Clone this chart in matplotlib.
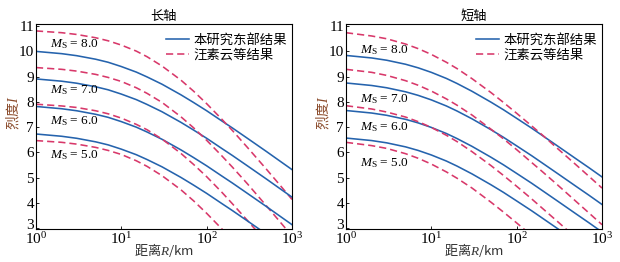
import matplotlib
matplotlib.use("Agg")
import matplotlib.pyplot as plt
import matplotlib.transforms as mtransforms
from matplotlib.lines import Line2D

plt.rcParams['font.family'] = ['Liberation Serif', 'Noto Sans CJK SC']
plt.rcParams['mathtext.fontset'] = 'custom'
plt.rcParams['mathtext.rm'] = 'Liberation Serif'
plt.rcParams['mathtext.it'] = 'Liberation Serif:italic'

R = [1, 2, 3, 5, 7, 10, 15, 20, 30, 50, 70, 100, 150, 200, 300, 500, 700, 1000]

# 长轴 (long axis)
long_this = {
    8.0: [10.00, 9.91, 9.83, 9.69, 9.57, 9.40, 9.18, 8.99, 8.70, 8.28, 7.98, 7.65, 7.25, 6.97, 6.56, 6.04, 5.69, 5.32],
    7.0: [8.91, 8.82, 8.74, 8.60, 8.48, 8.31, 8.09, 7.90, 7.61, 7.19, 6.89, 6.56, 6.16, 5.88, 5.47, 4.95, 4.60, 4.23],
    6.0: [7.82, 7.73, 7.65, 7.51, 7.39, 7.22, 7.00, 6.81, 6.52, 6.10, 5.80, 5.47, 5.07, 4.79, 4.38, 3.86, 3.51, 3.14],
    5.0: [6.73, 6.64, 6.56, 6.42, 6.30, 6.13, 5.91, 5.72, 5.43, 5.01, 4.71, 4.38, 3.98, 3.70, 3.29, 2.77, 2.42, 2.05],
}
long_wang = {
    8.0: [10.81, 10.74, 10.67, 10.54, 10.42, 10.25, 10.01, 9.79, 9.42, 8.86, 8.43, 7.93, 7.32, 6.87, 6.20, 5.34, 4.76, 4.14],
    7.0: [9.36, 9.29, 9.22, 9.09, 8.97, 8.81, 8.56, 8.34, 7.98, 7.41, 6.98, 6.48, 5.87, 5.42, 4.76, 3.89, 3.31, 2.69],
    6.0: [7.91, 7.84, 7.78, 7.65, 7.53, 7.36, 7.11, 6.90, 6.53, 5.96, 5.53, 5.04, 4.43, 3.97, 3.31, 2.45, 1.87, 1.24],
    5.0: [6.47, 6.40, 6.33, 6.20, 6.08, 5.92, 5.67, 5.45, 5.08, 4.52, 4.09, 3.59, 2.98, 2.53, 1.87, 1.00, 0.42, -0.20],
}
# 短轴 (short axis)
short_this = {
    8.0: [9.84, 9.74, 9.65, 9.49, 9.35, 9.17, 8.93, 8.73, 8.42, 7.99, 7.69, 7.35, 6.96, 6.67, 6.26, 5.74, 5.40, 5.03],
    7.0: [8.75, 8.65, 8.56, 8.40, 8.26, 8.08, 7.84, 7.64, 7.33, 6.90, 6.60, 6.26, 5.87, 5.58, 5.17, 4.65, 4.31, 3.94],
    6.0: [7.66, 7.56, 7.47, 7.31, 7.17, 6.99, 6.75, 6.55, 6.24, 5.81, 5.51, 5.17, 4.78, 4.49, 4.08, 3.56, 3.22, 2.85],
    5.0: [6.57, 6.47, 6.38, 6.22, 6.08, 5.90, 5.66, 5.46, 5.15, 4.72, 4.42, 4.08, 3.69, 3.40, 2.99, 2.47, 2.13, 1.76],
}
short_wang = {
    8.0: [10.74, 10.61, 10.50, 10.29, 10.11, 9.88, 9.57, 9.32, 8.92, 8.37, 7.98, 7.55, 7.05, 6.69, 6.16, 5.50, 5.06, 4.59],
    7.0: [9.29, 9.17, 9.05, 8.84, 8.66, 8.43, 8.12, 7.87, 7.48, 6.92, 6.54, 6.11, 5.60, 5.24, 4.72, 4.05, 3.61, 3.14],
    6.0: [7.85, 7.72, 7.60, 7.40, 7.22, 6.99, 6.68, 6.43, 6.03, 5.48, 5.09, 4.66, 4.16, 3.79, 3.27, 2.61, 2.17, 1.69],
    5.0: [6.40, 6.27, 6.16, 5.95, 5.77, 5.54, 5.23, 4.98, 4.59, 4.03, 3.64, 3.21, 2.71, 2.35, 1.83, 1.16, 0.72, 0.25],
}

titles = ['长轴', '短轴']
legend_labels = ['本研究东部结果', '汪素云等结果']
ms_label_y_long = {8.0: 10.3, 7.0: 8.46, 6.0: 7.23, 5.0: 5.89}
ms_label_y_short = {8.0: 10.07, 7.0: 8.13, 6.0: 7.01, 5.0: 5.59}

BLUE = '#2563ad'
RED = '#d8386a'
CJK = ['Noto Sans CJK SC', 'DejaVu Sans']
DASH = (0, (4.5, 2.5))

fig = plt.figure(figsize=(6.2, 2.62), dpi=100)
axes = [fig.add_axes([0.058, 0.126, 0.413, 0.782]),
        fig.add_axes([0.558, 0.126, 0.413, 0.782])]

panels = [(long_this, long_wang, ms_label_y_long), (short_this, short_wang, ms_label_y_short)]

for ax, title, (this, wang, lab_y) in zip(axes, titles, panels):
    for ms in this:
        ax.plot(R, this[ms], color=BLUE, lw=1.15)
        ax.plot(R, wang[ms], color=RED, lw=1.15, ls=DASH)
        ax.text(1.47, lab_y[ms], r'$M_{\rm S}$' + ' = %.1f' % ms, fontsize=9.5,
                va='center', ha='left', family=['Liberation Serif'])
    ax.set_xscale('log')
    ax.set_xlim(1, 1000)
    ax.set_ylim(2.97, 11.08)
    ax.set_yticks(range(3, 12))
    ax.set_xticks([1, 10, 100, 1000])
    ax.minorticks_off()
    ax.tick_params(direction='in', length=2.5, width=0.6, labelsize=11, pad=1.5)
    for s in ax.spines.values():
        s.set_linewidth(0.8)
    ax.set_title(title, fontsize=9.5, family=CJK, pad=3)
    ax.set_xlabel(r'距离$R$/km', fontsize=9.5, family=CJK + ['Liberation Serif'], color='#333333')
    ax.xaxis.set_label_coords(0.5, -0.058)
    ax.set_ylabel(r'烈度$I$', fontsize=10, family=CJK, color='#8a4a2a')
    ax.yaxis.set_label_coords(-0.058, 0.57)
    handles = [Line2D([], [], color=BLUE, lw=1.15),
               Line2D([], [], color=RED, lw=1.15, ls=DASH)]
    ax.legend(handles, legend_labels, loc='upper right', frameon=False,
              bbox_to_anchor=(0.99, 0.973),
              prop={'family': CJK, 'size': 9.6}, handlelength=1.75, handletextpad=0.3,
              labelspacing=0.12, borderaxespad=0.0, borderpad=0.2)
    # nudge the lowest y tick label up slightly so it clears the x tick labels
    fig.canvas.draw()
    lowest = ax.get_yticklabels()[0]
    lowest.set_transform(lowest.get_transform() +
                         mtransforms.ScaledTranslation(0, 3 / 72, fig.dpi_scale_trans))

fig.savefig('out.png', dpi=100)
